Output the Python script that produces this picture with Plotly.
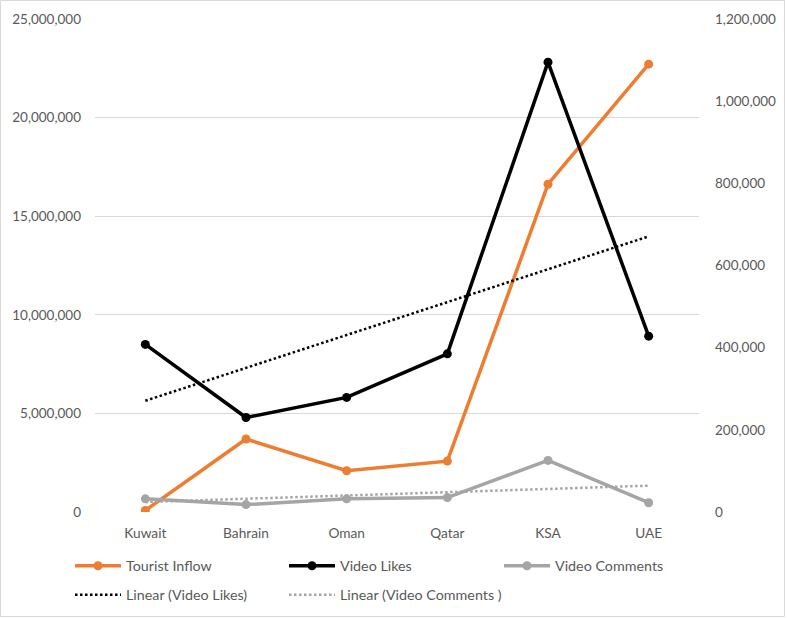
import numpy as np
import plotly.graph_objects as go

categories = ["Kuwait", "Bahrain", "Oman", "Qatar", "KSA", "UAE"]
tourist_inflow = [81000, 3700000, 2090000, 2580000, 16620000, 22710000]
video_likes = [408000, 230000, 279000, 385000, 1095000, 428000]
video_comments = [32000, 18000, 32000, 35000, 125500, 22600]

left_ticks = [0, 5000000, 10000000, 15000000, 20000000, 25000000]
right_ticks = [0, 200000, 400000, 600000, 800000, 1000000, 1200000]

FONT = "Lato"
TXT = "#595959"
ORANGE = "#ED7D31"
GRAY = "#A5A5A5"

idx = np.arange(1, len(categories) + 1)
lk_fit = np.polyval(np.polyfit(idx, video_likes, 1), idx)
cm_fit = np.polyval(np.polyfit(idx, video_comments, 1), idx)

LW, MS = 3.5, 9

fig = go.Figure()
fig.add_trace(go.Scatter(x=categories, y=tourist_inflow, name="Tourist Inflow", mode="lines+markers",
                         line=dict(color=ORANGE, width=LW), marker=dict(size=MS, color=ORANGE),
                         yaxis="y", legend="legend"))
fig.add_trace(go.Scatter(x=categories, y=video_likes, name="Video Likes", mode="lines+markers",
                         line=dict(color="black", width=LW), marker=dict(size=MS, color="black"),
                         yaxis="y2", legend="legend2"))
fig.add_trace(go.Scatter(x=categories, y=video_comments, name="Video Comments", mode="lines+markers",
                         line=dict(color=GRAY, width=LW), marker=dict(size=MS, color=GRAY),
                         yaxis="y2", legend="legend3"))
fig.add_trace(go.Scatter(x=categories, y=lk_fit, name="Linear (Video Likes)", mode="lines",
                         line=dict(color="black", width=2.5, dash="2.5px,2.5px"),
                         yaxis="y2", legend="legend4"))
fig.add_trace(go.Scatter(x=categories, y=cm_fit, name="Linear (Video Comments )", mode="lines",
                         line=dict(color=GRAY, width=2.5, dash="2.5px,2.5px"),
                         yaxis="y2", legend="legend5"))

W, H = 787, 618
L, R, T, B = 95, 88, 19, 106
pw, ph = W - L - R, H - T - B

def leg(xpx, ypx):
    return dict(orientation="h", font=dict(family=FONT, size=14.3, color=TXT),
                bgcolor="rgba(0,0,0,0)", xanchor="left", yanchor="middle", itemwidth=46,
                x=(xpx - 6 - L) / pw, y=(T + ph - ypx) / ph)

fig.update_layout(
    width=W, height=H,
    margin=dict(l=L, r=R, t=T, b=B, autoexpand=False),
    paper_bgcolor="white", plot_bgcolor="white",
    font=dict(family=FONT, size=13.5, color=TXT),
    xaxis=dict(type="category", range=[-0.5, 5.5], showgrid=False, showline=False,
               ticks="", automargin=False, ticklabelstandoff=11,
               tickfont=dict(family=FONT, size=13.7, color=TXT)),
    yaxis=dict(range=[0, 25000000], tickvals=left_ticks, tickformat=",", showgrid=True,
               gridcolor="#D9D9D9", gridwidth=1, zeroline=False, showline=False,
               automargin=False, ticklabelstandoff=13,
               tickfont=dict(family=FONT, size=13.5, color=TXT)),
    yaxis2=dict(range=[0, 1200000], tickvals=right_ticks, tickformat=",", overlaying="y",
                side="right", showgrid=False, zeroline=False, showline=False,
                automargin=False, ticklabelstandoff=15,
                tickfont=dict(family=FONT, size=13.5, color=TXT)),
    legend=leg(76, 566),
    legend2=leg(290, 566),
    legend3=leg(505, 566),
    legend4=leg(76, 595),
    legend5=leg(290, 595),
    showlegend=True,
    shapes=[dict(type="rect", xref="paper", yref="paper",
                 x0=(0.5 - L) / pw, x1=(W - 2.5 - L) / pw,
                 y0=(T + ph - (H - 1.5)) / ph, y1=(T + ph - 0.5) / ph,
                 line=dict(color="#D9D9D9", width=1), layer="below")],
)

fig.write_html("out.html", config={"displayModeBar": False},
               post_script="document.body.style.margin='0';")
